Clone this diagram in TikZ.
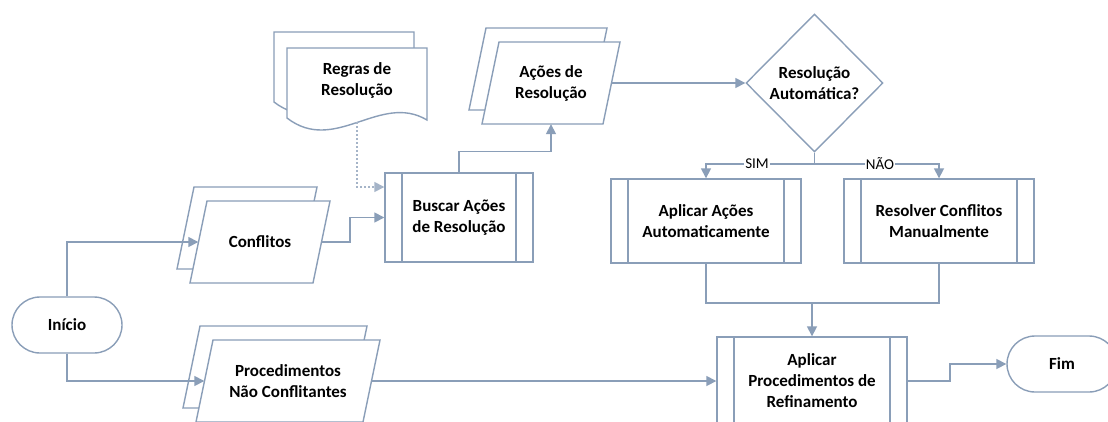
\documentclass[tikz,border=0pt]{standalone}
\usepackage{fontspec}
\setmainfont{Carlito}
\usetikzlibrary{arrows.meta,shapes.geometric,calc}
\definecolor{lc}{RGB}{138,158,184}
\definecolor{dc}{RGB}{165,180,200}
\newcommand\para[3]{%
  \filldraw[shp] ({#1-#3+8.5},{#2-41}) -- ({#1+#3+8.5},{#2-41}) -- ({#1+#3-8.5},{#2+41}) -- ({#1-#3-8.5},{#2+41}) -- cycle;}
\newcommand\docshape[2]{%
  \begin{scope}[shift={(#1,#2)}]
    \filldraw[shp] (287,48) -- (427,48) -- (427,120) .. controls (380,92) and (335,155) .. (287,118) -- cycle;
  \end{scope}}
\begin{document}
\begin{tikzpicture}[x=1pt,y=-1pt,
  every node/.style={font=\bfseries\fontsize{17}{21}\selectfont, align=center, inner sep=0pt},
  shp/.style={draw=lc, line width=1.4pt, fill=white},
  con/.style={draw=lc, line width=1.6pt, -{Triangle[length=10pt,width=10pt]}},
  dotc/.style={draw=dc, line width=1.6pt, dash pattern=on 2pt off 2pt, -{Triangle[length=10pt,width=10pt]}},
  term/.style={shp, rounded corners=28pt, minimum width=110pt, minimum height=56pt},
  proc/.style={shp, path picture={
      \draw[lc, line width=1.4pt]
        ([xshift=17pt]path picture bounding box.north west) -- ([xshift=17pt]path picture bounding box.south west)
        ([xshift=-17pt]path picture bounding box.north east) -- ([xshift=-17pt]path picture bounding box.south east);}},
  lbl/.style={fill=white, font=\fontsize{15}{18}\selectfont, inner sep=1pt}
]
\useasboundingbox (0,0) rectangle (1108,421);
\fill[white] (0,0) rectangle (1108,421);
\clip (0,0) rectangle (1108,421);

% stacked input/output shapes
\para{247}{228}{61.5}
\para{260}{242}{61.5}
\node[minimum width=123pt, minimum height=82pt] (conf) at (260,242) {Conflitos};

\para{538}{69}{60.5}
\para{551}{83}{60.5}
\node[minimum width=121pt, minimum height=82pt] (acoes) at (551,83) {Ações de\\Resolução};

\para{275}{367}{83.5}
\para{288}{381}{83.5}
\node[minimum width=167pt, minimum height=82pt] (proc) at (288,381) {Procedimentos\\Não Conflitantes};

% multi-document
\docshape{-13}{-16}
\docshape{0}{0}
\node[minimum width=140pt, minimum height=84pt] (regras) at (357,80) {Regras de\\Resolução};

% terminals
\node[term] (inicio) at (67,325) {Início};
\node[term] (fim) at (1062,364) {Fim};

% processes
\node[proc, minimum width=148pt, minimum height=89pt] (buscar) at (459,217.5) {Buscar Ações\\de Resolução};
\node[proc, minimum width=190pt, minimum height=84pt] (aplic) at (706,221) {Aplicar Ações\\Automaticamente};
\node[proc, minimum width=190pt, minimum height=84pt] (resolv) at (939,221) {Resolver Conflitos\\Manualmente};
\node[proc, minimum width=190pt, minimum height=88pt] (aplproc) at (812,381) {Aplicar\\Procedimentos de\\Refinamento};

% decision
\node[shp, diamond, aspect=1, minimum width=137pt, minimum height=138pt] (dec) at (814.5,83) {Resolução\\Automática?};

% connectors
\draw[con] (inicio.north) |- (conf.west);
\draw[con] (inicio.south) |- (proc.west);
\draw[con] (conf.east) -- ++(28.5,0) |- (buscar.west);
\draw[dotc] (regras.south) |- ([yshift=30.5pt]buscar.west);
\draw[con] (buscar.north) -- ++(0,-21) -| (acoes.south);
\draw[con] (acoes.east) -- (dec.west);
\draw[lc, line width=1.6pt] (dec.south) -- ++(0,11) coordinate (split);
\draw[con] (split) -| node[pos=0.265, lbl] {SIM} (aplic.north);
\draw[con] (split) -| node[pos=0.263, lbl] {NÃO} (resolv.north);
\coordinate (m) at (812,303);
\draw[lc, line width=1.6pt] (aplic.south) |- (m) -| (resolv.south);
\draw[con] (m) -- (aplproc.north);
\draw[con] (proc.east) -- (aplproc.west);
\draw[con] (aplproc.east) -- ++(42,0) |- (fim.west);
\end{tikzpicture}
\end{document}
